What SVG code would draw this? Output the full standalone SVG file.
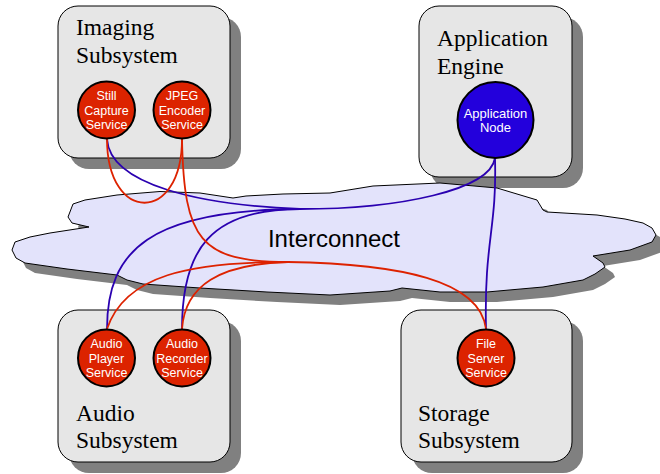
<svg xmlns="http://www.w3.org/2000/svg" width="660" height="474" viewBox="0 0 660 474">
<defs>
<style>
.box{fill:#e6e6e6;stroke:#000;stroke-width:1}
.shadow{fill:#808080;stroke:none}
.title{font-family:"Liberation Serif","Times New Roman",serif;font-size:23.5px;fill:#000}
.svc{fill:#dc2300;stroke:#000;stroke-width:2}
.app{fill:#2300dc;stroke:#000;stroke-width:2}
.lbl{font-family:"Liberation Sans",Arial,sans-serif;font-size:12.5px;fill:#fff;text-anchor:middle}
.cloud{fill:#e3e3fb;stroke:#000;stroke-width:1}
.red{fill:none;stroke:#dd2200;stroke-width:1.8}
.blue{fill:none;stroke:#2a00b0;stroke-width:1.8}
</style>
</defs>
<g id="imaging-subsystem">
<rect class="shadow" x="69" y="17" width="172" height="152" rx="20"/>
<rect class="box" x="58" y="6" width="172" height="152" rx="20"/>
<text class="title" x="76" y="35">Imaging</text>
<text class="title" x="76" y="63">Subsystem</text>
</g>
<g id="application-engine">
<rect class="shadow" x="430" y="17" width="153" height="171" rx="20"/>
<rect class="box" x="419" y="6" width="153" height="171" rx="20"/>
<text class="title" x="437" y="46">Application</text>
<text class="title" x="437" y="74">Engine</text>
</g>
<g id="audio-subsystem">
<rect class="shadow" x="69" y="321" width="172" height="152" rx="20"/>
<rect class="box" x="58" y="310" width="172" height="152" rx="20"/>
<text class="title" x="76" y="421">Audio</text>
<text class="title" x="76" y="448">Subsystem</text>
</g>
<g id="storage-subsystem">
<rect class="shadow" x="412" y="321" width="171" height="152" rx="20"/>
<rect class="box" x="401" y="310" width="171" height="152" rx="20"/>
<text class="title" x="418" y="421">Storage</text>
<text class="title" x="418" y="448">Subsystem</text>
</g>
<g id="interconnect">
<path class="shadow" transform="translate(10,10)" d="M73,204 L85,200 L117,195 L160,191.5 L200,193 L233,198 L246,196 L283,194 L330,193 L373,186 L440,183 L497,188 L537,200 L543,210 L547,212 L597,215 L625,219 L643,223 L652,228 L656,235 L652,242 L630,250 L593,256 L603,263 L605,267 L595,274 L583,280 L543,287 L487,292 L440,292 L402,288 L390,291 L330,295 L267,292 L200,288 L143,284 L127,280 L117,275 L67,269 L25,263 L16,258 L12,250 L15,242 L30,237 L50,233 L89,227 L72,223 L68,217 Z"/>
<path class="cloud" d="M73,204 L85,200 L117,195 L160,191.5 L200,193 L233,198 L246,196 L283,194 L330,193 L373,186 L440,183 L497,188 L537,200 L543,210 L547,212 L597,215 L625,219 L643,223 L652,228 L656,235 L652,242 L630,250 L593,256 L603,263 L605,267 L595,274 L583,280 L543,287 L487,292 L440,292 L402,288 L390,291 L330,295 L267,292 L200,288 L143,284 L127,280 L117,275 L67,269 L25,263 L16,258 L12,250 L15,242 L30,237 L50,233 L89,227 L72,223 L68,217 Z"/>
<text x="334" y="247" font-family="'Liberation Sans',Arial,sans-serif" font-size="24" text-anchor="middle" fill="#000">Interconnect</text>
</g>
<g id="connectors">
<path class="blue" d="M107,139 C110,185 200,205 300,209"/>
<path class="blue" d="M107,329 C107,250 150,210 300,209"/>
<path class="blue" d="M182,329 C182,250 210,209 300,209"/>
<path class="blue" d="M300,209 C400,209 490,190 495,158"/>
<path class="blue" d="M495,158 C497,230 484,240 486,329"/>
<path class="red" d="M107,139 C107,224 182,224 182,139"/>
<path class="red" d="M182,139 C184,240 200,262 288,262"/>
<path class="red" d="M107,329 C125,275 190,262 288,262"/>
<path class="red" d="M182,329 C185,285 220,264 288,262"/>
<path class="red" d="M288,262 C400,264 480,280 486,329"/>
</g>
<g id="still-capture-service">
<circle class="svc" cx="106.5" cy="110" r="28.5"/>
<text class="lbl" x="106.5" y="100">Still</text>
<text class="lbl" x="106.5" y="114.5">Capture</text>
<text class="lbl" x="106.5" y="129">Service</text>
</g>
<g id="jpeg-encoder-service">
<circle class="svc" cx="182" cy="110" r="28.5"/>
<text class="lbl" x="182" y="100">JPEG</text>
<text class="lbl" x="182" y="114.5">Encoder</text>
<text class="lbl" x="182" y="129">Service</text>
</g>
<g id="application-node">
<circle class="app" cx="495.5" cy="120" r="38"/>
<text class="lbl" x="495.5" y="118" font-size="13px" style="font-size:13px">Application</text>
<text class="lbl" x="495.5" y="132" style="font-size:13px">Node</text>
</g>
<g id="audio-player-service">
<circle class="svc" cx="106.5" cy="358" r="28.5"/>
<text class="lbl" x="106.5" y="348">Audio</text>
<text class="lbl" x="106.5" y="362.5">Player</text>
<text class="lbl" x="106.5" y="377">Service</text>
</g>
<g id="audio-recorder-service">
<circle class="svc" cx="182" cy="358" r="28.5"/>
<text class="lbl" x="182" y="348">Audio</text>
<text class="lbl" x="182" y="362.5">Recorder</text>
<text class="lbl" x="182" y="377">Service</text>
</g>
<g id="file-server-service">
<circle class="svc" cx="486" cy="358" r="28.5"/>
<text class="lbl" x="486" y="348">File</text>
<text class="lbl" x="486" y="362.5">Server</text>
<text class="lbl" x="486" y="377">Service</text>
</g>
</svg>
